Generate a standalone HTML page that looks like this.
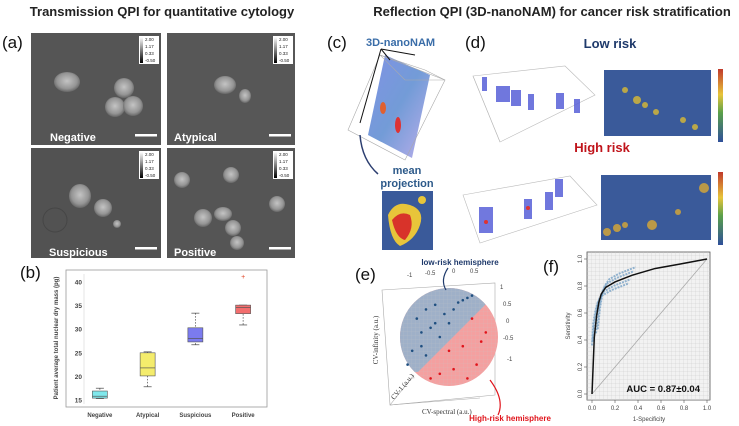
<!DOCTYPE html>
<html><head><meta charset="utf-8"><style>
html,body{margin:0;padding:0;background:#fff;width:739px;height:426px;overflow:hidden}
svg{display:block;font-family:"Liberation Sans",sans-serif}
</style></head><body>
<svg id="fig" width="739" height="426" viewBox="0 0 739 426" xmlns="http://www.w3.org/2000/svg">
<defs>
<radialGradient id="cell" cx="50%" cy="45%" r="55%"><stop offset="0" stop-color="#c4c4c4"/><stop offset="0.7" stop-color="#959595"/><stop offset="1" stop-color="#666"/></radialGradient>
<linearGradient id="gbar" x1="0" y1="0" x2="0" y2="1"><stop offset="0" stop-color="#fff"/><stop offset="1" stop-color="#000"/></linearGradient>
<linearGradient id="cbar" x1="0" y1="0" x2="0" y2="1"><stop offset="0" stop-color="#c0392b"/><stop offset="0.35" stop-color="#e8c53a"/><stop offset="0.6" stop-color="#5aa04a"/><stop offset="1" stop-color="#2f4f9a"/></linearGradient>
<linearGradient id="vol" x1="0" y1="0" x2="1" y2="1"><stop offset="0" stop-color="#6a7fe0"/><stop offset="0.5" stop-color="#5a8ad0"/><stop offset="1" stop-color="#b0a0e8"/></linearGradient>
<pattern id="grid" width="4" height="4" patternUnits="userSpaceOnUse"><path d="M4 0V4M0 4H4" stroke="#c8c8c8" stroke-width="0.5"/></pattern>
</defs>

<text x="162" y="16" text-anchor="middle" font-size="13" font-weight="bold" fill="#222">Transmission QPI for quantitative cytology</text>
<text x="552" y="16" text-anchor="middle" font-size="13" font-weight="bold" fill="#222">Reflection QPI (3D-nanoNAM) for cancer risk stratification</text>

<text x="2" y="48" font-size="17" fill="#111">(a)</text>
<g>
 <g>
  <rect x="31" y="33" width="130" height="112" fill="#555"/>
  <ellipse cx="67" cy="82" rx="13" ry="10" fill="url(#cell)"/>
  <circle cx="124" cy="88" r="10" fill="url(#cell)"/><circle cx="115" cy="107" r="10" fill="url(#cell)"/><circle cx="133" cy="106" r="10" fill="url(#cell)"/>
  <text x="50" y="141" font-size="11" font-weight="bold" fill="#fff">Negative</text>
 </g>
 <g>
  <rect x="167" y="33" width="128" height="112" fill="#575757"/>
  <ellipse cx="225" cy="85" rx="11" ry="9" fill="url(#cell)"/><ellipse cx="245" cy="96" rx="6" ry="7" fill="url(#cell)"/>
  <text x="174" y="141" font-size="11" font-weight="bold" fill="#fff">Atypical</text>
 </g>
 <g>
  <rect x="31" y="148" width="130" height="110" fill="#525252"/>
  <ellipse cx="80" cy="196" rx="11" ry="12" fill="url(#cell)"/><circle cx="103" cy="208" r="9" fill="url(#cell)"/><circle cx="117" cy="224" r="4" fill="url(#cell)"/>
  <circle cx="55" cy="220" r="12" fill="none" stroke="#464646"/>
  <text x="49" y="256" font-size="11" font-weight="bold" fill="#fff">Suspicious</text>
 </g>
 <g>
  <rect x="167" y="148" width="128" height="110" fill="#555"/>
  <circle cx="182" cy="180" r="8" fill="url(#cell)"/><circle cx="231" cy="175" r="8" fill="url(#cell)"/><circle cx="203" cy="218" r="9" fill="url(#cell)"/>
  <ellipse cx="223" cy="214" rx="9" ry="7" fill="url(#cell)"/><circle cx="233" cy="228" r="8" fill="url(#cell)"/><circle cx="237" cy="243" r="7" fill="url(#cell)"/><circle cx="277" cy="204" r="8" fill="url(#cell)"/>
  <text x="174" y="256" font-size="11" font-weight="bold" fill="#fff">Positive</text>
 </g>
 <g id="sbars"></g>
</g>

<text x="20" y="278" font-size="17" fill="#111">(b)</text>
<g id="boxplot"></g>

<text x="327" y="48" font-size="17" fill="#111">(c)</text>
<text x="366" y="46" font-size="11" font-weight="bold" fill="#3a6da8">3D-nanoNAM</text>
<g>
 <polygon points="385,55 430,75 412,158 368,135" fill="url(#vol)" opacity="0.85"/>
 <polygon points="380,55 425,70 445,80 405,80" fill="none" stroke="#aaa" stroke-width="0.6"/>
 <polygon points="380,55 445,80 405,160 348,130" fill="none" stroke="#aaa" stroke-width="0.6"/>
 <ellipse cx="398" cy="125" rx="3" ry="8" fill="#d33"/><ellipse cx="383" cy="108" rx="3" ry="6" fill="#e06030"/>
 <line x1="381" y1="49" x2="415" y2="55" stroke="#111"/><line x1="381" y1="49" x2="390" y2="60" stroke="#111"/>
 <line x1="381" y1="49" x2="360" y2="123" stroke="#111"/>
 <path d="M360 135 Q362 160 378 174" fill="none" stroke="#2c3e70" stroke-width="1.5"/>
</g>
<text x="407" y="174" text-anchor="middle" font-size="11" font-weight="bold" fill="#2d5a8a">mean</text>
<text x="407" y="187" text-anchor="middle" font-size="11" font-weight="bold" fill="#2d5a8a">projection</text>
<g>
 <rect x="382" y="191" width="51" height="59" fill="#3a5a9a"/>
 <path d="M388 215 Q395 200 410 205 Q425 210 420 225 Q415 240 400 246 Q390 240 388 215Z" fill="#e8c53a"/>
 <path d="M392 220 Q400 210 410 215 Q415 228 405 240 Q396 238 392 220Z" fill="#d8332a"/>
 <circle cx="422" cy="200" r="4" fill="#e8c53a"/>
</g>

<text x="465" y="48" font-size="17" fill="#111">(d)</text>
<text x="610" y="48" text-anchor="middle" font-size="13" font-weight="bold" fill="#1f3a6b">Low risk</text>
<text x="602" y="152" text-anchor="middle" font-size="13" font-weight="bold" fill="#c0141b">High risk</text>
<g>
 <polygon points="473,76 565,66 595,95 500,142" fill="none" stroke="#bbb" stroke-width="0.6"/>
 <line x1="473" y1="76" x2="500" y2="142" stroke="#bbb" stroke-width="0.6"/>
 <g fill="#5860d8" opacity="0.85"><rect x="482" y="77" width="5" height="14"/><rect x="496" y="86" width="14" height="16"/><rect x="511" y="90" width="10" height="16"/><rect x="528" y="94" width="6" height="16"/><rect x="556" y="93" width="8" height="16"/><rect x="574" y="99" width="6" height="14"/></g>
</g>
<rect x="604" y="70" width="107" height="66" fill="#3a5a9a"/>
<g fill="#c8b040" opacity="0.9"><circle cx="625" cy="90" r="3"/><circle cx="637" cy="100" r="4"/><circle cx="645" cy="105" r="3"/><circle cx="656" cy="112" r="3"/><circle cx="683" cy="120" r="3"/><circle cx="695" cy="127" r="3"/></g>
<rect x="718" y="69" width="5" height="73" fill="url(#cbar)"/>
<g>
 <polygon points="463,195 570,176 597,205 480,243" fill="none" stroke="#bbb" stroke-width="0.6"/>
 <g fill="#5860d8" opacity="0.85"><rect x="479" y="207" width="14" height="26"/><rect x="524" y="199" width="8" height="20"/><rect x="545" y="192" width="8" height="18"/><rect x="555" y="179" width="8" height="18"/></g>
 <circle cx="486" cy="222" r="2" fill="#d33"/><circle cx="528" cy="208" r="2" fill="#d33"/>
</g>
<rect x="601" y="175" width="110" height="65" fill="#3a5a9a"/>
<g fill="#c8a040" opacity="0.9"><circle cx="607" cy="232" r="4"/><circle cx="617" cy="228" r="4"/><circle cx="625" cy="225" r="3"/><circle cx="652" cy="225" r="5"/><circle cx="678" cy="212" r="3"/><circle cx="704" cy="188" r="5"/></g>
<rect x="718" y="172" width="5" height="73" fill="url(#cbar)"/>

<text x="355" y="280" font-size="17" fill="#111">(e)</text>
<g>
 <polygon points="382,290 495,283 495,395 390,405" fill="none" stroke="#aaa" stroke-width="0.6"/>
 <line x1="390" y1="405" x2="414" y2="375" stroke="#aaa" stroke-width="0.6"/>
 <line x1="390" y1="405" x2="480" y2="398" stroke="#aaa" stroke-width="0.6"/>
 <clipPath id="sph"><circle cx="449" cy="337" r="49"/></clipPath>
 <g clip-path="url(#sph)">
  <rect x="398" y="286" width="104" height="104" fill="#f4a0a0"/>
  <polygon points="398,286 502,286 485,305 418,372 398,372" fill="#9fb0c8"/>
  <rect x="398" y="286" width="104" height="104" fill="url(#grid)" opacity="0.5"/>
 </g>
 <g id="spherepts"></g>
 <g font-size="6" fill="#444"><text x="407" y="277">-1</text><text x="425" y="275">-0.5</text><text x="452" y="273">0</text><text x="470" y="273">0.5</text><text x="500" y="289">1</text><text x="503" y="306">0.5</text><text x="506" y="323">0</text><text x="503" y="340">-0.5</text><text x="507" y="361">-1</text></g>
 <text x="378" y="340" font-size="7" fill="#333" font-family="Liberation Serif,serif" transform="rotate(-90 378 340)" text-anchor="middle">CV-infinity (a.u.)</text>
 <text x="394" y="400" font-size="7" fill="#333" font-family="Liberation Serif,serif" transform="rotate(-50 394 400)">CV-1 (a.u.)</text>
 <text x="422" y="414" font-size="7" fill="#333" font-family="Liberation Serif,serif">CV-spectral (a.u.)</text>
 <text x="460" y="265" text-anchor="middle" font-size="8" font-weight="bold" fill="#1f3a6b">low-risk hemisphere</text>
 <path d="M448 268 Q440 280 446 290" fill="none" stroke="#1f3a6b" stroke-width="1.2"/>
 <text x="510" y="421" text-anchor="middle" font-size="8" font-weight="bold" fill="#e0141b">High-risk hemisphere</text>
 <path d="M498 415 Q505 400 490 380" fill="none" stroke="#e0141b" stroke-width="1.2"/>
</g>

<text x="543" y="272" font-size="17" fill="#111">(f)</text>
<g id="roc"></g>

<script>
// Boxplot data (panel b)
const boxCategories = ["Negative","Atypical","Suspicious","Positive"];
const boxMin = [15.3, 17.8, 26.7, 30.9];
const boxQ1 = [15.4, 20.1, 27.3, 33.3];
const boxMed = [15.8, 21.8, 28.0, 34.6];
const boxQ3 = [16.9, 25.0, 30.3, 35.1];
const boxMax = [17.5, 25.2, 33.4, 35.1];
const boxOutliers = [null, null, null, 41.1];
const boxColors = ["#7fe8ec","#f4ec6c","#7b7bef","#f36e6e"];
const boxTicks = [15,20,25,30,35,40];
// ROC data (panel f)
const rocFpr = [0, 0.02, 0.04, 0.06, 0.08, 0.12, 0.2, 0.35, 0.55, 0.75, 1.0];
const rocTpr = [0, 0.42, 0.58, 0.68, 0.74, 0.79, 0.83, 0.88, 0.93, 0.96, 1.0];
const rocTicks = [0, 0.2, 0.4, 0.6, 0.8, 1.0];
const aucText = "AUC = 0.87±0.04";
// Sphere points
const lowPtsX = [-0.7,-0.5,-0.3,-0.1,0.1,0.3,0.5,-0.6,-0.4,-0.2,0.0,-0.8,-0.5,0.2,0.4,-0.3,-0.9,-0.6];
const lowPtsY = [0.4,0.6,0.7,0.5,0.6,0.8,0.9,0.1,0.2,0.0,0.3,-0.3,-0.4,0.75,0.85,0.3,-0.6,-0.2];
const highPtsX = [0.5,0.7,0.3,0.1,-0.2,0.6,0.8,0.0,-0.4,0.4];
const highPtsY = [0.4,-0.1,-0.2,-0.7,-0.8,-0.6,0.1,-0.3,-0.9,-0.9];

const NS="http://www.w3.org/2000/svg";
function mk(tag, attrs, parent, txt){const e=document.createElementNS(NS,tag);for(const k in attrs)e.setAttribute(k,attrs[k]);if(txt!==undefined)e.textContent=txt;parent.appendChild(e);return e;}

// scale bars + mini colorbars on micrographs
(function(){
  const sb=document.getElementById('sbars');
  [[31,33],[167,33],[31,148],[167,148]].forEach(p=>{
    const [ox,oy]=p;const w=(ox===31?130:128);
    mk('rect',{x:ox+w-22,y:oy+3,width:20,height:28,fill:'#fff'},sb);
    mk('rect',{x:ox+w-21,y:oy+4,width:3,height:26,fill:'url(#gbar)'},sb);
    ['2.00','1.17','0.33','-0.50'].forEach((t,i)=>mk('text',{x:ox+w-16,y:oy+8+i*7,'font-size':4.5,fill:'#222'},sb,t));
    mk('rect',{x:ox+w-26,y:oy+(oy===33?101:99),width:22,height:2.5,fill:'#fff'},sb);
  });
})();

// Boxplot
(function(){
  const g=document.getElementById('boxplot');
  const x0=76,x1=267;
  const yv=v=>400-(v-15)*(118/25);
  const xc=i=>x0+(x1-x0)*(i+0.5)/boxCategories.length;
  mk('rect',{x:66,y:270,width:201,height:137,fill:'#fff',stroke:'#999','stroke-width':0.8},g);
  boxTicks.forEach(t=>{
    const tk=mk('text',{x:82,y:yv(t)+2.5,'text-anchor':'end','font-size':6.5,'font-weight':'bold',fill:'#444'},g,String(t));
    
    
  });
  mk('line',{x1:84,x2:84,y1:274,y2:404,stroke:'#ccc','stroke-width':0.5},g);
  const yt=mk('text',{x:58,y:338,'text-anchor':'middle','font-size':6,'font-weight':'bold',fill:'#444',transform:'rotate(-90 58 338)'},g,'Patient average total nuclear dry mass (pg)');
  
  
  boxCategories.forEach((c,i)=>{
    const x=xc(i),w=15;
    mk('line',{x1:x,x2:x,y1:yv(boxMax[i]),y2:yv(boxMin[i]),stroke:'#444','stroke-width':0.7,'stroke-dasharray':'1.5,1.5'},g);
    mk('line',{x1:x-4,x2:x+4,y1:yv(boxMax[i]),y2:yv(boxMax[i]),stroke:'#444','stroke-width':0.7},g);
    mk('line',{x1:x-4,x2:x+4,y1:yv(boxMin[i]),y2:yv(boxMin[i]),stroke:'#444','stroke-width':0.7},g);
    const b=mk('rect',{x:x-w/2,y:yv(boxQ3[i]),width:w,height:yv(boxQ1[i])-yv(boxQ3[i]),fill:boxColors[i],stroke:'#555','stroke-width':0.6},g);
    
    
    mk('line',{x1:x-w/2,x2:x+w/2,y1:yv(boxMed[i]),y2:yv(boxMed[i]),stroke:'#555','stroke-width':0.7},g);
    if(boxOutliers[i]!==null) mk('text',{x:x,y:yv(boxOutliers[i])+2,'text-anchor':'middle','font-size':7,fill:'#e04020'},g,'+');
    const l=mk('text',{x:x,y:417,'text-anchor':'middle','font-size':6,'font-weight':'bold',fill:'#444'},g,c);
    
    
  });
})();

// Sphere points
(function(){
  const g=document.getElementById('spherepts');
  const cx=449,cy=337,r=46;
  lowPtsX.forEach((v,i)=>{const p=mk('circle',{cx:cx+v*r,cy:cy-lowPtsY[i]*r,r:1.3,fill:'#1f4f80'},g);});
  highPtsX.forEach((v,i)=>{const p=mk('circle',{cx:cx+v*r,cy:cy-highPtsY[i]*r,r:1.3,fill:'#e0141b'},g);});
})();

// ROC
(function(){
  const g=document.getElementById('roc');
  const px0=587,px1=710,py0=252,py1=400;
  const xs=v=>592+v*115, ys=v=>394-v*135;
  mk('rect',{x:px0,y:py0,width:px1-px0,height:py1-py0,fill:'#f2f2f2',stroke:'#555','stroke-width':0.8},g);
  mk('rect',{x:px0,y:py0,width:px1-px0,height:py1-py0,fill:'url(#grid)'},g);
  mk('line',{x1:xs(0),y1:ys(0),x2:xs(1),y2:ys(1),stroke:'#aaa','stroke-width':0.8},g);
  [-0.06,-0.03,0.03,0.06].forEach(d=>{
    const pts=rocFpr.map((f,i)=>xs(Math.max(0,f+d*0.5))+','+ys(Math.min(1,Math.max(0,rocTpr[i]+d)))).slice(1,8).join(' ');
    mk('polyline',{points:pts,fill:'none',stroke:'#6a98c0','stroke-width':2,'stroke-dasharray':'2,1',opacity:0.7},g);
  });
  const line=mk('polyline',{points:rocFpr.map((f,i)=>xs(f)+','+ys(rocTpr[i])).join(' '),fill:'none',stroke:'#111','stroke-width':1.5},g);
  
  
  rocTicks.forEach(t=>{
    mk('line',{x1:xs(t),x2:xs(t),y1:py1,y2:py1+3,stroke:'#555','stroke-width':0.6},g);
    const a=mk('text',{x:xs(t),y:py1+10,'text-anchor':'middle','font-size':6,fill:'#444'},g,t.toFixed(1));
    
    
    mk('line',{x1:px0-3,x2:px0,y1:ys(t),y2:ys(t),stroke:'#555','stroke-width':0.6},g);
    const b=mk('text',{x:px0-5,y:ys(t),'text-anchor':'middle','font-size':6,fill:'#444',transform:'rotate(-90 '+(px0-5)+' '+ys(t)+')'},g,t.toFixed(1));
    
    
  });
  const xt=mk('text',{x:649,y:421,'text-anchor':'middle','font-size':6,fill:'#444'},g,'1-Specificity');
  
  
  const yt=mk('text',{x:570,y:326,'text-anchor':'middle','font-size':6,fill:'#444',transform:'rotate(-90 570 326)'},g,'Sensitivity');
  
  
  const au=mk('text',{x:700,y:392,'text-anchor':'end','font-size':9.5,'font-weight':'bold',fill:'#111'},g,aucText);
  
  
})();
</script>
</svg>
</body></html>
